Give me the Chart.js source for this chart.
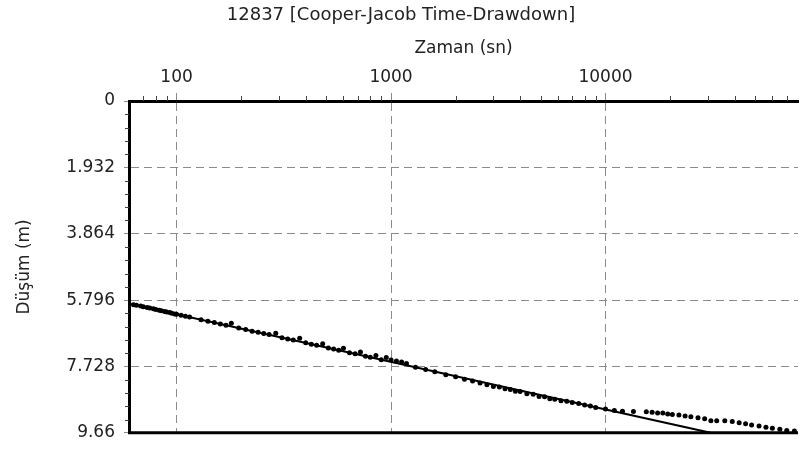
<!DOCTYPE html>
<html>
<head>
<meta charset="utf-8">
<script src="https://cdn.jsdelivr.net/npm/chart.js@4.4.1/dist/chart.umd.min.js"></script>
<style>
  html, body { margin: 0; padding: 0; background: #fff; overflow: hidden; }
  #chart { display: block; }
</style>
</head>
<body>
<canvas id="chart" width="802" height="452"></canvas>
<script>
//axis ticks
var xTickVals = [100, 1000, 10000];
var yTickVals = [0, 1.932, 3.864, 5.796, 7.728, 9.66];

//observed drawdown (time in sec, drawdown in m)
var timeSec = [60, 63, 65, 68, 70, 73, 75, 78, 80, 83, 85, 88, 90, 93, 95, 98, 100, 105, 110, 115,
  130, 140, 150, 160, 170, 180, 195, 210, 225, 240, 255, 270, 290, 310, 330, 350, 375,
  400, 425, 450, 480, 510, 540, 570, 600, 640, 680, 720, 760, 800, 850, 900, 950,
  1000, 1060, 1120, 1180, 1300, 1450, 1600, 1800, 2000, 2200, 2400, 2600, 2800,
  3000, 3200, 3400, 3600, 3800, 4000, 4300, 4600, 4900, 5200, 5500, 5800, 6200,
  6600, 7000, 7500, 8000, 8500, 9000, 10000, 11000, 12000, 13500, 15500, 16500,
  17500, 18500, 19500, 20500, 22000, 23500, 25000, 27000, 29000, 31000, 33000,
  36000, 39000, 42000, 45000, 48000, 52000, 56000, 60000, 65000, 70000, 76000];
var drawdown = [5.90, 5.93, 5.95, 5.97, 5.99, 6.01, 6.03, 6.05, 6.07, 6.09, 6.11, 6.13, 6.14, 6.16, 6.18, 6.20, 6.21, 6.24, 6.27, 6.29,
  6.37, 6.41, 6.45, 6.49, 6.53, 6.47, 6.61, 6.65, 6.70, 6.73, 6.77, 6.80, 6.76, 6.89, 6.93, 6.96, 6.91,
  7.04, 7.08, 7.11, 7.07, 7.19, 7.22, 7.26, 7.20, 7.33, 7.36, 7.31, 7.43, 7.46, 7.41, 7.53, 7.47,
  7.54, 7.57, 7.60, 7.64, 7.75, 7.82, 7.88, 7.97, 8.03, 8.10, 8.15, 8.21, 8.26,
  8.31, 8.33, 8.38, 8.40, 8.45, 8.46, 8.52, 8.54, 8.60, 8.61, 8.67, 8.68, 8.73,
  8.74, 8.78, 8.81, 8.85, 8.88, 8.92, 8.97, 9.01, 9.03, 9.04, 9.05, 9.06,
  9.08, 9.08, 9.11, 9.13, 9.14, 9.17, 9.19, 9.22, 9.25, 9.31, 9.31,
  9.31, 9.33, 9.37, 9.40, 9.43, 9.46, 9.50, 9.53, 9.56, 9.59, 9.61];

//Cooper-Jacob straight line
var fitTime = [60, 30900];
var fitDrawdown = [5.90, 9.66];

var obsPoints = [];
var i;
for (i = 0; i < timeSec.length; i++) {
  obsPoints.push({x: timeSec[i], y: drawdown[i]});
}
var fitPoints = [];
for (i = 0; i < fitTime.length; i++) {
  fitPoints.push({x: fitTime[i], y: fitDrawdown[i]});
}

var fontFam = '"DejaVu Sans", Arial, sans-serif';
var textColor = '#222';
var gridColor = '#8a8a8a';

// minor ticks + bottom frame line
var frameExtras = {
  id: 'frameExtras',
  afterDraw: function(chart) {
    var ctx = chart.ctx;
    var area = chart.chartArea;
    var xs = chart.scales.x;
    var ys = chart.scales.y;
    ctx.save();
    ctx.strokeStyle = '#444';
    ctx.lineWidth = 1;
    ctx.beginPath();
    var d, k, px, py;
    for (d = 10; d <= 10000; d *= 10) {
      for (k = 2; k <= 9; k++) {
        var v = d * k;
        if (v <= xs.min || v >= xs.max) continue;
        px = Math.round(xs.getPixelForValue(v)) + 0.5;
        ctx.moveTo(px, area.top - 5);
        ctx.lineTo(px, area.top);
      }
    }
    for (i = 0; i < yTickVals.length - 1; i++) {
      var step = (yTickVals[i + 1] - yTickVals[i]) / 5;
      for (k = 1; k < 5; k++) {
        py = Math.round(ys.getPixelForValue(yTickVals[i] + step * k)) + 0.5;
        ctx.moveTo(area.left - 4, py);
        ctx.lineTo(area.left, py);
      }
    }
    ctx.stroke();
    ctx.strokeStyle = '#000';
    ctx.lineWidth = 3;
    ctx.beginPath();
    ctx.moveTo(area.left - 1, area.bottom);
    ctx.lineTo(area.right, area.bottom);
    ctx.stroke();
    ctx.restore();
  }
};

var ctx = document.getElementById('chart').getContext('2d');
window.cjChart = new Chart(ctx, {
  type: 'scatter',
  data: {
    datasets: [{
      label: 'Cooper-Jacob',
      data: fitPoints,
      showLine: true,
      borderColor: '#000',
      borderWidth: 2,
      pointRadius: 0,
      order: 2
    },
    {
      label: 'Gözlem',
      data: obsPoints,
      showLine: false,
      backgroundColor: '#000',
      borderColor: '#000',
      borderWidth: 0,
      pointRadius: 2.5,
      order: 1
    }]
  },
  options: {
    responsive: false,
    animation: false,
    devicePixelRatio: 1,
    layout: {
      padding: {left: 0, right: 0, top: 0, bottom: 17}
    },
    plugins: {
      legend: {display: false},
      tooltip: {enabled: false},
      title: {
        display: true,
        text: '12837 [Cooper-Jacob Time-Drawdown]',
        color: textColor,
        font: {family: fontFam, size: 18, weight: 'normal'},
        padding: {top: 5, bottom: 5}
      }
    },
    scales: {
      x: {
        type: 'logarithmic',
        position: 'top',
        min: 60,
        max: 79000,
        afterBuildTicks: function(scale) {
          scale.ticks = xTickVals.map(function(v) { return {value: v}; });
        },
        afterFit: function(scale) {
          scale.height = 69.4;
        },
        ticks: {
          color: textColor,
          font: {family: fontFam, size: 17},
          padding: 5,
          maxRotation: 0,
          callback: function(v) { return String(v); }
        },
        grid: {
          color: gridColor,
          lineWidth: 1,
          tickLength: 8,
          tickColor: gridColor
        },
        border: {
          display: true,
          color: '#000',
          width: 3,
          dash: [8, 5]
        },
        title: {
          display: true,
          text: 'Zaman (sn)',
          color: textColor,
          font: {family: fontFam, size: 17},
          padding: {top: 7, bottom: 0}
        }
      },
      y: {
        type: 'linear',
        reverse: true,
        min: 0,
        max: 9.66,
        afterBuildTicks: function(scale) {
          scale.ticks = yTickVals.map(function(v) { return {value: v}; });
        },
        afterFit: function(scale) {
          scale.width = 129;
        },
        ticks: {
          color: textColor,
          font: {family: fontFam, size: 17},
          padding: 9,
          callback: function(v) { return String(v); }
        },
        grid: {
          color: gridColor,
          lineWidth: 1,
          tickLength: 5,
          tickColor: gridColor
        },
        border: {
          display: true,
          color: '#000',
          width: 3,
          dash: [8, 5]
        },
        title: {
          display: true,
          text: 'Düşüm (m)',
          color: textColor,
          font: {family: fontFam, size: 17},
          padding: {top: 14, bottom: 0}
        }
      }
    }
  },
  plugins: [frameExtras]
});
</script>
</body>
</html>
